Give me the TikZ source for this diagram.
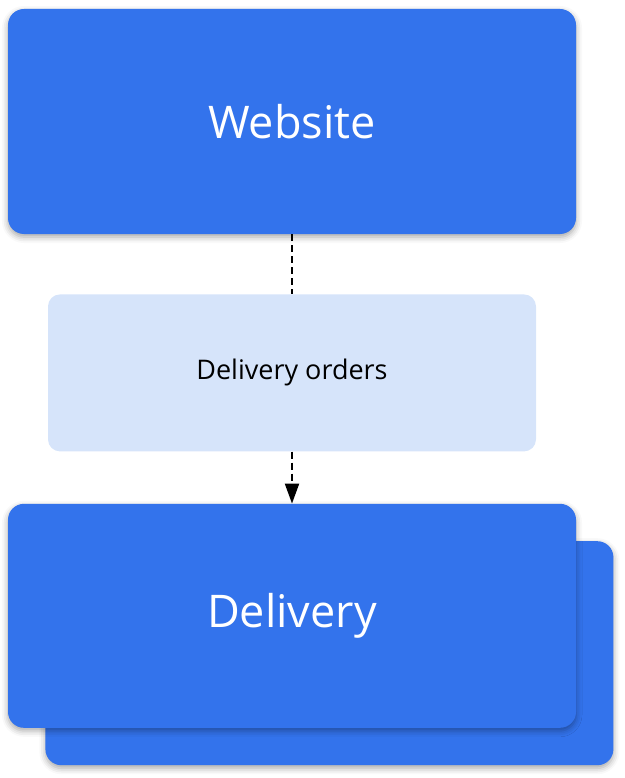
\documentclass[tikz,border=0pt]{standalone}
\usepackage{fontspec}
\setmainfont{Open Sans}
\usepackage{tikz}
\usetikzlibrary{positioning, shadows.blur, arrows.meta}
\pgfdeclarelayer{background}
\pgfsetlayers{background,main}
\definecolor{appblue}{HTML}{3373EC}
\definecolor{msgblue}{HTML}{D6E4FA}
\tikzstyle{service} = [rectangle, rounded corners=16pt, minimum width=568pt, minimum height=225pt, text centered, fill=appblue, text=white, font=\fontsize{45}{54}\selectfont, blur shadow={shadow xshift=0pt, shadow yshift=-3pt, shadow blur radius=6pt, shadow opacity=35}]
\tikzstyle{message} = [rectangle, rounded corners=12pt, minimum width=488pt, minimum height=157pt, text centered, fill=msgblue, text=black, font=\fontsize{27}{32}\selectfont]
\tikzstyle{link}    = [line width=2pt, dash pattern=on 7pt off 4pt]
\tikzstyle{arrow}   = [link, -{Triangle[length=20pt,width=14pt]}]

\begin{document}
\begin{tikzpicture}[node distance=60pt]
    \useasboundingbox (0pt,0pt) rectangle (624pt,-778pt);
    \node (website)  [service] at (292pt,-121.5pt) {Website};
    \node (orders)   [message, below=of website] {Delivery orders};
    \node (delivery) [service, below=52pt of orders, minimum height=224pt] {Delivery};

    \draw [link]  (website) -- (orders);
    \draw [arrow] (orders)  -- (delivery);

    \begin{pgfonlayer}{background}
      \node (deliveryback) [service, minimum height=224pt, below right=-187pt and -531pt of delivery] {};
    \end{pgfonlayer}

  \end{tikzpicture}
\end{document}
